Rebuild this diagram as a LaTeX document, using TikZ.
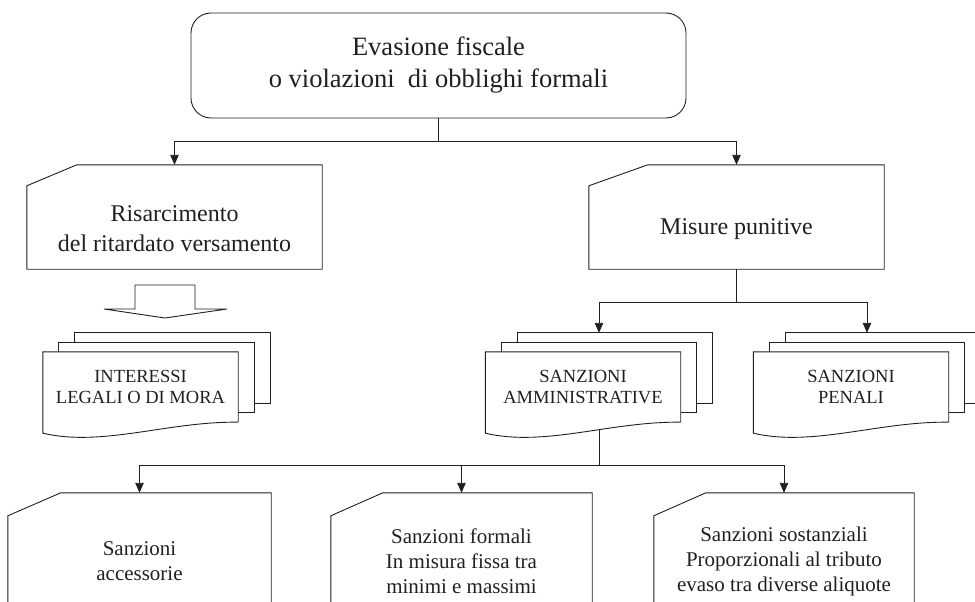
\documentclass[tikz,border=0pt]{standalone}
\usepackage{fontspec}
\setmainfont{Liberation Serif}
\usetikzlibrary{arrows.meta,backgrounds}
\definecolor{ink}{RGB}{35,31,32}
\tikzset{
  wire/.style={draw=ink, line width=0.9pt},
  link/.style={wire, -{Triangle[length=10pt,width=8.5pt]}},
  topbox/.style={wire, rounded corners=20pt, minimum width=495pt, minimum height=105pt,
    align=center, text=ink, font=\fontsize{26.5}{32}\selectfont},
  card/.style={minimum width=295pt, minimum height=104pt, inner sep=0pt},
  cardtext/.style={align=center, text=ink, font=\fontsize{24}{30}\selectfont},
  doc/.style={fill=white, minimum width=195pt, minimum height=70pt, inner sep=0pt,
    align=center, text=ink, font=\fontsize{18.5}{21}\selectfont},
  lowcard/.style={minimum width=261pt, minimum height=136pt, inner sep=0pt,
    align=center, text=ink, font=\fontsize{21}{25}\selectfont},
}
\begin{document}
\begin{tikzpicture}[x=1pt,y=1pt]
    \useasboundingbox (0,0) rectangle (975,-602);

    \node[topbox] (top) at (438.5,-65.5) {Evasione fiscale\\o violazioni\ \ di obblighi formali};

    \node[card, label={[cardtext, name=ris-t, yshift=-11.5pt]center:{Risarcimento\\del ritardato versamento}}] (ris) at (174.5,-217) {};
    \node[card, label={[cardtext, name=mis-t, yshift=-12pt]center:{Misure punitive}}] (mis) at (736.5,-217) {};

    \node[doc] (int) at (140.5,-387) {INTERESSI\\LEGALI O DI MORA};
    \node[doc] (amm) at (583,-387) {SANZIONI\\AMMINISTRATIVE};
    \node[doc] (pen) at (851,-387) {SANZIONI\\PENALI};

    \node[lowcard, minimum width=263pt] (acc) at (139.5,-561) {Sanzioni\\accessorie};
    \node[lowcard] (form) at (461.5,-561) {Sanzioni formali\\In misura fissa tra\\minimi e massimi};
    \node[lowcard, minimum width=260pt] (sost) at (784,-561) {Sanzioni sostanziali\\Proporzionali al tributo\\evaso tra diverse aliquote};

    % cards with the cut corner
    \foreach \b/\cx/\cy in {ris/50/21, mis/59/21, acc/53/23, form/52/23, sost/52/23}
        \draw[wire] ([xshift=\cx pt]\b.north west) -- (\b.north east) -- (\b.south east)
            -- (\b.south west) -- ([yshift=-\cy pt]\b.north west) -- cycle;

    % stacked documents
    \begin{scope}[on background layer]
    \foreach \d in {int,amm,pen} {
        \draw[wire, fill=white] ([shift={(32,19)}]\d.south west) rectangle ([shift={(32,19)}]\d.north east);
        \draw[wire, fill=white] ([shift={(16,9.5)}]\d.south west) rectangle ([shift={(16,9.5)}]\d.north east);
    }
    \end{scope}
    \foreach \d in {int,amm,pen}
        \draw[wire] (\d.south east) -- (\d.north east) -- (\d.north west) -- ([yshift=-11pt]\d.south west)
            .. controls +(60,-14) and +(-70,1) .. (\d.south east) coordinate[pos=0.6] (\d-out);

    % connectors
    \draw[wire] (top.south) -- ++(0,-23) coordinate (j1);
    \draw[link] (j1) -| (ris.north);
    \draw[link] (j1) -| (mis.north);

    \coordinate (blk) at (165,-285);
    \draw[wire] (blk) ++(-30,0) -- ++(60,0) -- ++(0,-24) -- ++(32,0) -- ++(-62,-9) -- ++(-61,9) -- ++(31,0) -- cycle;

    \draw[wire] (mis.south) -- ++(0,-33) coordinate (j2);
    \draw[link] (j2) -| ([shift={(16,19)}]amm.north);
    \draw[link] (j2) -| ([shift={(16,19)}]pen.north);

    \draw[wire] (amm-out) -- ++(0,-36) coordinate (j3);
    \draw[link] (j3) -| (acc.north);
    \draw[link] (j3) -| (form.north);
    \draw[link] (j3) -| (sost.north);
\end{tikzpicture}
\end{document}
